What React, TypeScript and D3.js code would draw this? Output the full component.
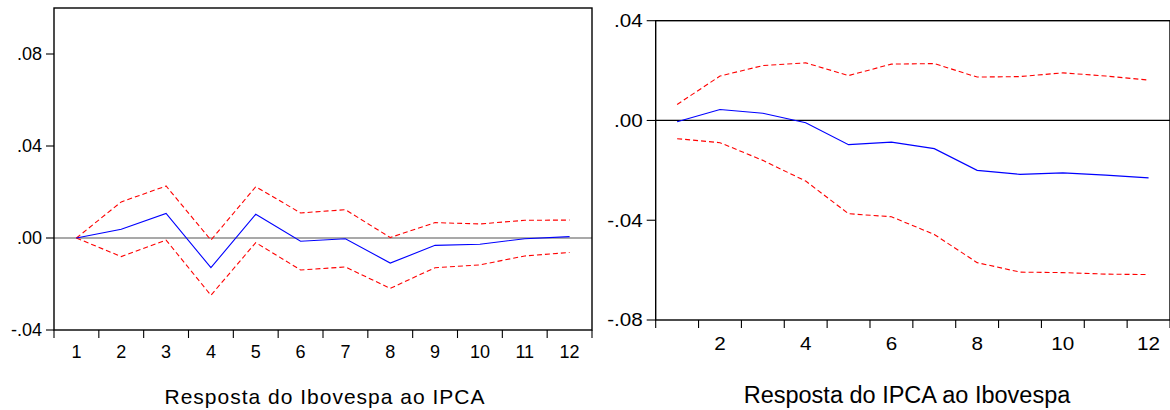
import React from "react";
import * as d3 from "d3";

const periods = [1, 2, 3, 4, 5, 6, 7, 8, 9, 10, 11, 12];

// Left panel: Resposta do Ibovespa ao IPCA
const ibovResp = [0, 0.0038, 0.0107, -0.0129, 0.0103, -0.0014, -0.0003, -0.0109, -0.0032, -0.0027, -0.0003, 0.0006];
const ibovUpper = [0, 0.0157, 0.0226, -0.0009, 0.0223, 0.0109, 0.0123, 0.0002, 0.0067, 0.0061, 0.0077, 0.0078];
const ibovLower = [0, -0.0081, -0.0009, -0.0249, -0.002, -0.0139, -0.0126, -0.0219, -0.0129, -0.0117, -0.0078, -0.0063];
const leftYTicks = [-0.04, 0, 0.04, 0.08];
const leftXLabels = [1, 2, 3, 4, 5, 6, 7, 8, 9, 10, 11, 12];
const leftTitle = "Resposta do Ibovespa ao IPCA";

// Right panel: Resposta do IPCA ao Ibovespa
const ipcaResp = [-0.0005, 0.0044, 0.0029, -0.0009, -0.0097, -0.0087, -0.0113, -0.02, -0.0216, -0.021, -0.0219, -0.023];
const ipcaUpper = [0.0064, 0.0178, 0.022, 0.0231, 0.018, 0.0226, 0.0228, 0.0174, 0.0176, 0.0191, 0.0178, 0.0162];
const ipcaLower = [-0.0073, -0.0089, -0.016, -0.0243, -0.0374, -0.0386, -0.0457, -0.057, -0.0608, -0.061, -0.0616, -0.0618];
const rightYTicks = [-0.08, -0.04, 0, 0.04];
const rightXLabels = [2, 4, 6, 8, 10, 12];
const rightTitle = "Resposta do IPCA ao Ibovespa";

const FONT = "'Liberation Sans', Arial, sans-serif";
const fmt = (v: number) => v.toFixed(2).replace(/^(-?)0\./, "$1.");

type PanelProps = {
  left: number; right: number; top: number; bottom: number;
  yDomain: [number, number];
  yTicks: number[];
  xLabels: number[];
  resp: number[]; upper: number[]; lower: number[];
  title: string; titleX: number; titleY: number; titleSize: number; titleSpacing: number;
  tickFont: number; tickScale: number; xLabelY: number; yTickLen: number; zeroColor: string;
};

function Panel(p: PanelProps) {
  const x = d3.scaleLinear().domain([0.5, 12.5]).range([p.left, p.right]);
  const y = d3.scaleLinear().domain(p.yDomain).range([p.bottom, p.top]);
  const line = d3.line<number>().x((_, i) => x(periods[i])).y((d) => y(d));
  const bounds = d3.range(0.5, 13, 1);
  return (
    <g>
      <line x1={p.left} x2={p.right} y1={y(0)} y2={y(0)} stroke={p.zeroColor} strokeWidth={1.2} />
      <path d={line(p.upper) || ""} fill="none" stroke="#ff0000" strokeWidth={1.1} strokeDasharray="5,3" />
      <path d={line(p.lower) || ""} fill="none" stroke="#ff0000" strokeWidth={1.1} strokeDasharray="5,3" />
      <path d={line(p.resp) || ""} fill="none" stroke="#0000ff" strokeWidth={1.1} />
      <rect x={p.left} y={p.top} width={p.right - p.left} height={p.bottom - p.top} fill="none" stroke="#000" strokeWidth={1.4} />
      {p.yTicks.map((t) => (
        <g key={"y" + t}>
          <line x1={p.left - p.yTickLen} x2={p.left} y1={y(t)} y2={y(t)} stroke="#000" strokeWidth={1.1} />
          <text
            transform={`translate(${p.left - p.yTickLen - 4},${y(t)}) scale(${p.tickScale},1)`}
            dy="0.36em" textAnchor="end" fontFamily={FONT} fontSize={p.tickFont} fill="#000"
          >
            {fmt(t)}
          </text>
        </g>
      ))}
      {bounds.map((b) => (
        <line key={"xt" + b} x1={x(b)} x2={x(b)} y1={p.bottom} y2={p.bottom + 8} stroke="#000" strokeWidth={1.1} />
      ))}
      {p.xLabels.map((l) => (
        <text
          key={"xl" + l}
          transform={`translate(${x(l)},${p.xLabelY}) scale(${p.tickScale},1)`}
          textAnchor="middle" fontFamily={FONT} fontSize={p.tickFont} fill="#000"
        >
          {l}
        </text>
      ))}
      <text x={p.titleX} y={p.titleY} textAnchor="middle" fontFamily={FONT} fontSize={p.titleSize} letterSpacing={p.titleSpacing} fill="#000">
        {p.title}
      </text>
    </g>
  );
}

export default function App() {
  return (
    <svg width={1170} height={410} style={{ position: "absolute", left: 0, top: 0, background: "#fff" }}>
      <rect width={1170} height={410} fill="#fff" />
      <Panel
        left={54} right={592} top={8} bottom={330}
        yDomain={[-0.04, 0.1]} yTicks={leftYTicks} xLabels={leftXLabels}
        resp={ibovResp} upper={ibovUpper} lower={ibovLower}
        title={leftTitle} titleX={325} titleY={404} titleSize={21} titleSpacing={1}
        tickFont={17.5} tickScale={1.03} xLabelY={358} yTickLen={8} zeroColor="#555"
      />
      <Panel
        left={655.7} right={1170} top={20.7} bottom={320}
        yDomain={[-0.08, 0.04]} yTicks={rightYTicks} xLabels={rightXLabels}
        resp={ipcaResp} upper={ipcaUpper} lower={ipcaLower}
        title={rightTitle} titleX={907} titleY={403} titleSize={23.5} titleSpacing={0}
        tickFont={17.5} tickScale={1.18} xLabelY={350} yTickLen={9} zeroColor="#000"
      />
    </svg>
  );
}
